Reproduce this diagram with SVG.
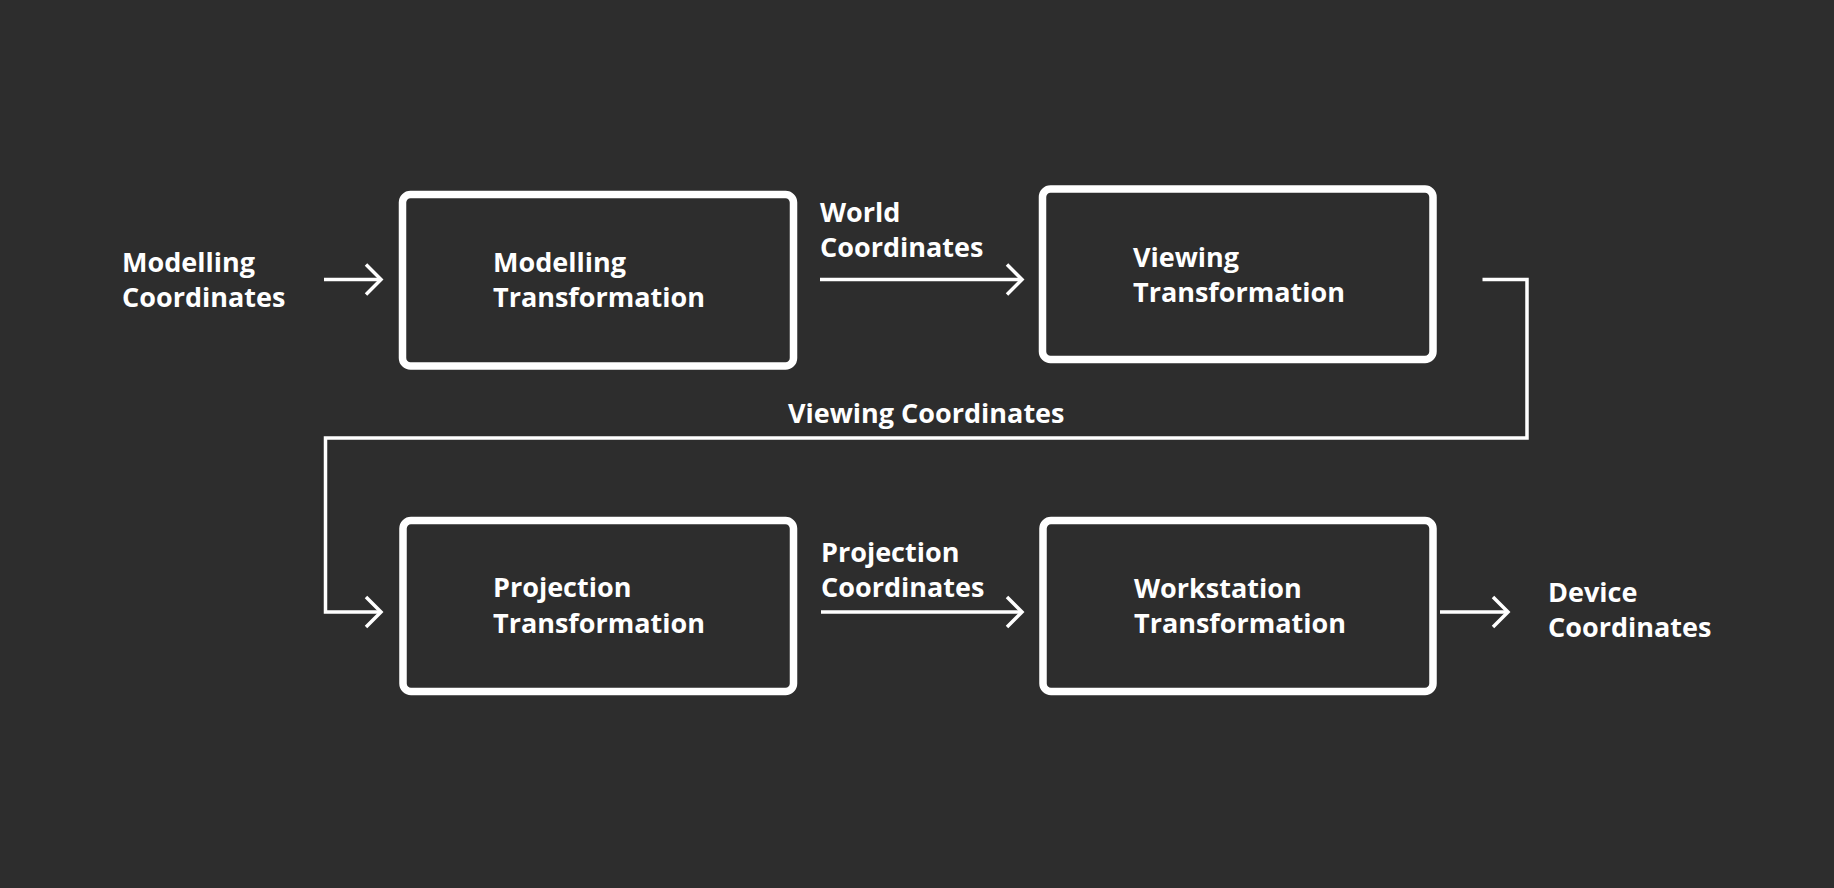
<svg xmlns="http://www.w3.org/2000/svg" width="1834" height="888" viewBox="0 0 1834 888">
<style>
.bg{fill:#2d2d2d}
.box{fill:#2d2d2d;stroke:#ffffff;stroke-width:7.5}
.lbl{font-family:"Open Sans","Liberation Sans",sans-serif;font-weight:700;font-size:27px;fill:#ffffff}
.con{fill:none;stroke:#ffffff;stroke-width:3.5}
</style>
<defs>
<marker id="chev" markerUnits="userSpaceOnUse" markerWidth="24" markerHeight="36" viewBox="0 0 24 36" refX="20" refY="18" orient="auto">
<path d="M5,3 L20,18 L5,33" fill="none" stroke="#ffffff" stroke-width="3.5"/>
</marker>
</defs>
<rect class="bg" x="0" y="0" width="1834" height="888"/>
<g id="connectors">
<line class="con" x1="324" y1="279.5" x2="381" y2="279.5" marker-end="url(#chev)"/>
<line class="con" x1="820" y1="279.5" x2="1022" y2="279.5" marker-end="url(#chev)"/>
<path class="con" d="M1482.5,279.5 H1527 V438 H325.5 V612 H381" marker-end="url(#chev)"/>
<line class="con" x1="821" y1="612" x2="1022" y2="612" marker-end="url(#chev)"/>
<line class="con" x1="1440" y1="612" x2="1508" y2="612" marker-end="url(#chev)"/>
</g>
<g id="label-modelling-coordinates">
<text class="lbl" x="122" y="272">Modelling</text>
<text class="lbl" x="122" y="307">Coordinates</text>
</g>
<g id="node-modelling">
<rect class="box" x="402.5" y="194.5" width="391" height="171.5" rx="8"/>
<text class="lbl" x="493" y="272">Modelling</text>
<text class="lbl" x="493" y="307">Transformation</text>
</g>
<g id="label-world">
<text class="lbl" x="820" y="222">World</text>
<text class="lbl" x="820" y="257">Coordinates</text>
</g>
<g id="node-viewing">
<rect class="box" x="1042.5" y="189" width="390.5" height="170.5" rx="8"/>
<text class="lbl" x="1133" y="267">Viewing</text>
<text class="lbl" x="1133" y="302">Transformation</text>
</g>
<g id="label-viewing-coordinates">
<text class="lbl" x="788" y="423">Viewing Coordinates</text>
</g>
<g id="node-projection">
<rect class="box" x="403" y="520.5" width="390.5" height="171" rx="8"/>
<text class="lbl" x="493" y="597">Projection</text>
<text class="lbl" x="493" y="633">Transformation</text>
</g>
<g id="label-projection-coordinates">
<text class="lbl" x="821" y="562">Projection</text>
<text class="lbl" x="821" y="597">Coordinates</text>
</g>
<g id="node-workstation">
<rect class="box" x="1043" y="520.5" width="390" height="171" rx="8"/>
<text class="lbl" x="1134" y="598">Workstation</text>
<text class="lbl" x="1134" y="633">Transformation</text>
</g>
<g id="label-device">
<text class="lbl" x="1548" y="602">Device</text>
<text class="lbl" x="1548" y="637">Coordinates</text>
</g>
</svg>
